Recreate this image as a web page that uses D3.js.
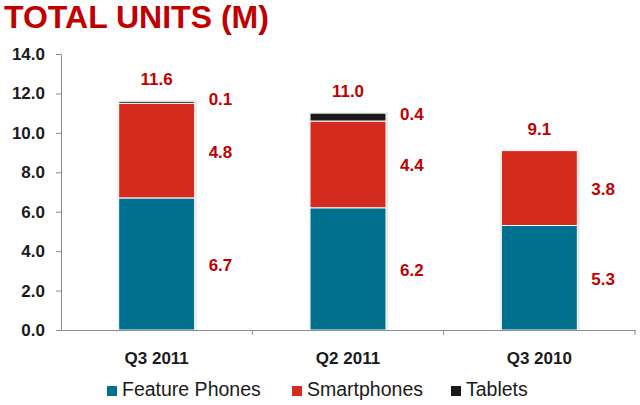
<!DOCTYPE html>
<html lang="en">
<head>
  <meta charset="UTF-8">
  <title>Total Units (M)</title>
  <style>
    body { margin: 0; background: #fff; font-family: Arial, 'Liberation Sans', sans-serif; }
    svg text { font-family: Arial, 'Liberation Sans', sans-serif; }
  </style>
  <script src="https://d3js.org/d3.v7.min.js"></script>
</head>
<body>
<script>
  // Chart data
  const quarters = ["Q3 2011", "Q2 2011", "Q3 2010"];
  const seriesNames = ["Feature Phones", "Smartphones", "Tablets"];
  const featurePhones = [6.7, 6.2, 5.3];
  const smartphones = [4.8, 4.4, 3.8];
  const tablets = [0.1, 0.4, 0];
  const totals = [11.6, 11.0, 9.1];
  const yTicks = [0, 2, 4, 6, 8, 10, 12, 14];

  const colors = ["#00708e", "#d52b1e", "#1a1a1a"];
  const labelColor = "#c00000";

  const width = 640, height = 405;
  const svg = d3.select("body").append("svg")
    .attr("width", width)
    .attr("height", height);

  // Title
  svg.append("text")
    .attr("x", 4).attr("y", 28)
    .attr("fill", labelColor)
    .attr("font-size", 32)
    .attr("font-weight", "bold")
    .text("TOTAL UNITS (M)");

  const x = d3.scaleBand().domain(quarters).range([61, 635]);
  const y = d3.scaleLinear().domain([0, 14]).range([330, 54]);
  const barW = 76;

  // Build stacked rows
  const rows = quarters.map((q, i) => ({
    quarter: q,
    "Feature Phones": featurePhones[i],
    "Smartphones": smartphones[i],
    "Tablets": tablets[i]
  }));
  const stacked = d3.stack().keys(seriesNames)(rows);

  // light shadow behind bars
  svg.append("g").selectAll("rect")
    .data(quarters)
    .enter().append("rect")
    .attr("x", (d) => x(d) + x.bandwidth() / 2 - barW / 2 - 1)
    .attr("y", (d, i) => y(totals[i]) - 1)
    .attr("width", barW + 3)
    .attr("height", (d, i) => y(0) - y(totals[i]) + 1)
    .attr("fill", "#e4e4e4");

  // Bars
  const layer = svg.append("g").selectAll("g")
    .data(stacked)
    .enter().append("g")
    .attr("fill", (d, i) => colors[i]);

  layer.selectAll("rect")
    .data(d => d.filter(s => s[1] - s[0] > 0))
    .enter().append("rect")
    .attr("x", d => x(d.data.quarter) + x.bandwidth() / 2 - barW / 2)
    .attr("y", d => y(d[1]))
    .attr("width", barW)
    .attr("height", d => y(d[0]) - y(d[1]))
    .attr("stroke", "#fff")
    .attr("stroke-width", 1);

  // Segment value labels
  layer.selectAll("text")
    .data(d => d.filter(s => s[1] - s[0] > 0).map(s => ({ s: s, key: d.key })))
    .enter().append("text")
    .attr("x", d => x(d.s.data.quarter) + x.bandwidth() / 2 + barW / 2 + 14)
    .attr("y", d => {
      const mid = y((d.s[0] + d.s[1]) / 2);
      return d.key === "Tablets" ? mid + 3 : mid + 7;
    })
    .attr("fill", labelColor)
    .attr("font-size", 17)
    .attr("font-weight", "bold")
    .text(d => (d.s[1] - d.s[0]).toFixed(1));

  // Totals
  svg.append("g").selectAll("text")
    .data(quarters)
    .enter().append("text")
    .attr("x", d => x(d) + x.bandwidth() / 2)
    .attr("y", (d, i) => y(totals[i]) - 16)
    .attr("text-anchor", "middle")
    .attr("fill", labelColor)
    .attr("font-size", 17)
    .attr("font-weight", "bold")
    .text((d, i) => totals[i].toFixed(1));

  // Y axis
  const yAxis = svg.append("g")
    .attr("transform", "translate(61,0)")
    .call(d3.axisLeft(y).tickValues(yTicks).tickFormat(d3.format(".1f")).tickSize(5).tickSizeOuter(0));
  yAxis.select(".domain").attr("stroke", "#8c8c8c");
  yAxis.selectAll(".tick line").attr("stroke", "#8c8c8c");
  yAxis.selectAll(".tick text")
    .attr("x", -16)
    .attr("fill", "#1a1a1a")
    .attr("font-size", 17)
    .attr("font-weight", "bold");

  // X axis
  const xAxis = svg.append("g")
    .attr("transform", "translate(0,330)")
    .call(d3.axisBottom(x).tickSize(0).tickSizeOuter(0));
  xAxis.select(".domain").attr("stroke", "#8c8c8c");
  xAxis.selectAll(".tick text")
    .attr("dy", 0)
    .attr("y", 34)
    .attr("fill", "#1a1a1a")
    .attr("font-size", 17)
    .attr("font-weight", "bold");
  // category separator ticks
  xAxis.selectAll(".sep")
    .data(quarters)
    .enter().append("line")
    .attr("class", "sep")
    .attr("x1", d => x(d) + x.bandwidth())
    .attr("x2", d => x(d) + x.bandwidth())
    .attr("y1", 0).attr("y2", 5)
    .attr("stroke", "#8c8c8c");

  // Legend
  const legendX = [107, 292, 451];
  const legend = svg.append("g").selectAll("g")
    .data(seriesNames)
    .enter().append("g")
    .attr("transform", (d, i) => `translate(${legendX[i]},386)`);
  legend.append("rect")
    .attr("width", 10).attr("height", 10)
    .attr("fill", (d, i) => colors[i]);
  legend.append("text")
    .attr("x", 15).attr("y", 10)
    .attr("fill", "#1a1a1a")
    .attr("font-size", 19.5)
    .text(d => d);
</script>
</body>
</html>
